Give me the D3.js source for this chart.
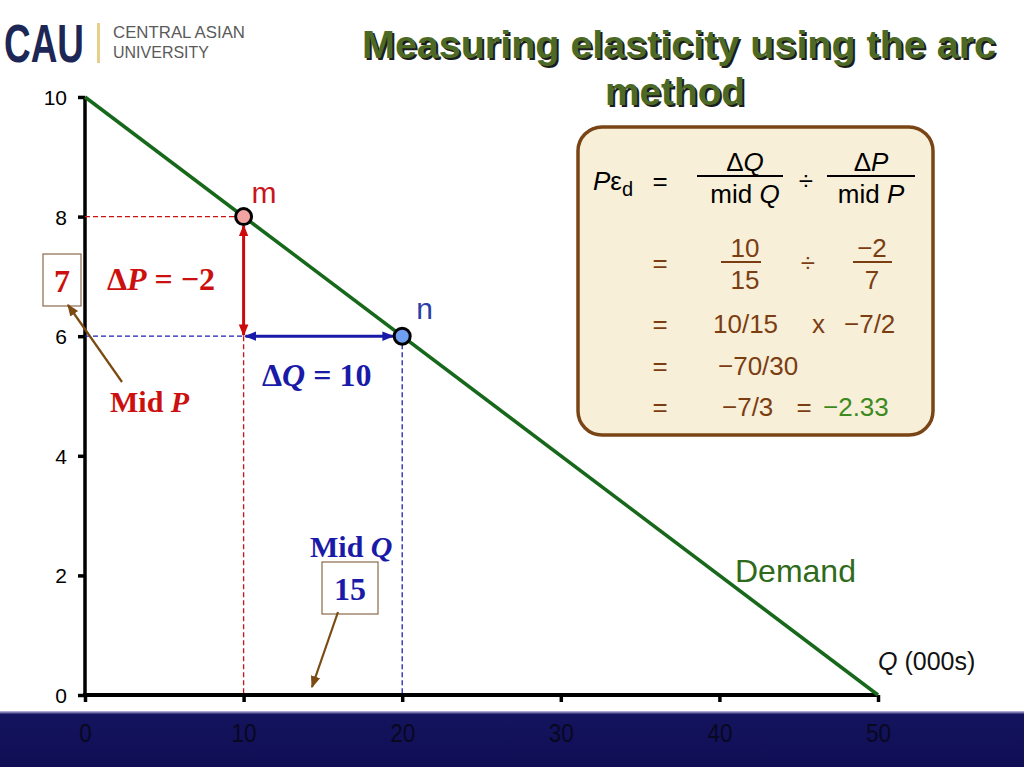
<!DOCTYPE html>
<html><head><meta charset="utf-8">
<script src="https://cdn.jsdelivr.net/npm/d3@7"></script>
<style>
html,body{margin:0;padding:0;background:#fff;}
svg{display:block;}
</style></head>
<body>
<script>
// ---- data ----
const qTicks = [0, 10, 20, 30, 40, 50];
const pTicks = [0, 2, 4, 6, 8, 10];
const demandQ = [0, 50];
const demandP = [10, 0];
const pointNames = ["m", "n"];
const pointQ = [10, 20];
const pointP = [8, 6];
const midP = 7;
const midQ = 15;
const deltaP = -2;
const deltaQ = 10;

const W = 1024, H = 767;
const svg = d3.select("body").append("svg").attr("width", W).attr("height", H);
const defs = svg.append("defs");

const x = d3.scaleLinear().domain([0, 50]).range([85, 878]);
const y = d3.scaleLinear().domain([0, 10]).range([695, 97]);

// arrow markers
function marker(id, color, size) {
  defs.append("marker").attr("id", id).attr("viewBox", "0 0 10 10")
    .attr("refX", 9).attr("refY", 5).attr("markerWidth", size).attr("markerHeight", size)
    .attr("orient", "auto-start-reverse").attr("markerUnits", "userSpaceOnUse")
    .append("path").attr("d", "M0,1 L10,5 L0,9 Z").attr("fill", color);
}
marker("arRed", "#cc0a0a", 12);
marker("arBlue", "#1a1aa8", 12);
marker("arBrown", "#7a4a12", 12);

// bottom band
const bandGrad = defs.append("linearGradient").attr("id", "bandG").attr("x1", 0).attr("y1", 0).attr("x2", 0).attr("y2", 1);
bandGrad.append("stop").attr("offset", "0").attr("stop-color", "#c9c4ea");
bandGrad.append("stop").attr("offset", "0.06").attr("stop-color", "#14145e");
bandGrad.append("stop").attr("offset", "1").attr("stop-color", "#0f0e55");
svg.append("rect").attr("x", 0).attr("y", 711).attr("width", W).attr("height", H - 711).attr("fill", "url(#bandG)");

// logo
const logo = svg.append("g");
logo.append("text").attr("x", 4).attr("y", 62).attr("font-family", "Liberation Sans, Arial, sans-serif")
  .attr("font-weight", "bold").attr("font-size", 54).attr("fill", "#1d2755")
  .attr("textLength", 80).attr("lengthAdjust", "spacingAndGlyphs").text("CAU");
logo.append("rect").attr("x", 97).attr("y", 23).attr("width", 3).attr("height", 40).attr("fill", "#e6cf8a");
logo.append("text").attr("x", 113).attr("y", 38).attr("font-family", "Liberation Sans Narrow, Liberation Sans, Arial, sans-serif")
  .attr("font-size", 17).attr("fill", "#5a5a5a").attr("textLength", 132).attr("lengthAdjust", "spacingAndGlyphs").text("CENTRAL ASIAN");
logo.append("text").attr("x", 113).attr("y", 58).attr("font-family", "Liberation Sans Narrow, Liberation Sans, Arial, sans-serif")
  .attr("font-size", 17).attr("fill", "#5a5a5a").attr("textLength", 96).attr("lengthAdjust", "spacingAndGlyphs").text("UNIVERSITY");

// title
const titleLines = [["Measuring elasticity using the arc", 679, 58, 634], ["method", 675, 105, 140]];
titleLines.forEach(([t, cx, by, len]) => {
  [["#1c1c1c", 2], ["#4c6a26", 0]].forEach(([col, off]) => {
    svg.append("text").attr("x", cx + off).attr("y", by + off).attr("text-anchor", "middle")
      .attr("font-family", "Liberation Sans Narrow, Liberation Sans, Arial, sans-serif")
      .attr("font-weight", "bold").attr("font-size", 38).attr("fill", col)
      .attr("textLength", len).attr("lengthAdjust", "spacingAndGlyphs").text(t);
  });
});

// axes
const yAxis = d3.axisLeft(y).tickValues(pTicks).tickSize(7).tickPadding(11).tickFormat(d3.format("d"));
const gy = svg.append("g").attr("transform", `translate(${x(0)},0)`).call(yAxis);
gy.select(".domain").attr("stroke", "#000").attr("stroke-width", 3.5).attr("d", `M0,${y(10)}V${y(0)}`);
gy.selectAll(".tick line").attr("stroke", "#000").attr("stroke-width", 3.5);
gy.selectAll(".tick text").attr("font-family", "Liberation Sans, Arial, sans-serif").attr("font-size", 21).attr("fill", "#000").attr("dy", "0.36em");

const xAxis = d3.axisBottom(x).tickValues(qTicks).tickSize(7).tickPadding(22).tickFormat(d3.format("d"));
const gx = svg.append("g").attr("transform", `translate(0,${y(0)})`).call(xAxis);
gx.select(".domain").attr("stroke", "#000").attr("stroke-width", 4).attr("d", `M${x(0) - 2},0H${x(50)}`);
gx.selectAll(".tick line").attr("stroke", "#000").attr("stroke-width", 3.5);
gx.selectAll(".tick text").attr("font-family", "Liberation Sans, Arial, sans-serif").attr("font-size", 25).attr("fill", "#08081f")
  .attr("transform", "scale(0.9,1)");

// dashed guides
const guides = [
  [pointQ[0], pointP[0], "#cc1010"],
  [pointQ[1], pointP[1], "#2020b0"]
];
guides.forEach(([q, p, col]) => {
  svg.append("line").attr("x1", x(0)).attr("x2", x(q)).attr("y1", y(p)).attr("y2", y(p))
    .attr("stroke", col).attr("stroke-width", 1.3).attr("stroke-dasharray", "5,3");
  svg.append("line").attr("x1", x(q)).attr("x2", x(q)).attr("y1", y(pointP[1])).attr("y2", y(0))
    .attr("stroke", col).attr("stroke-width", 1.3).attr("stroke-dasharray", "5,3");
});

// demand line
svg.append("line").attr("x1", x(demandQ[0])).attr("y1", y(demandP[0])).attr("x2", x(demandQ[1])).attr("y2", y(demandP[1]))
  .attr("stroke", "#17681a").attr("stroke-width", 3.5);

// delta arrows
svg.append("line").attr("x1", x(pointQ[0])).attr("x2", x(pointQ[0])).attr("y1", y(pointP[0]) + 9).attr("y2", y(pointP[1]) - 1)
  .attr("stroke", "#cc0a0a").attr("stroke-width", 3).attr("marker-start", "url(#arRed)").attr("marker-end", "url(#arRed)");
svg.append("line").attr("x1", x(pointQ[0]) + 2).attr("x2", x(pointQ[1]) - 9).attr("y1", y(pointP[1])).attr("y2", y(pointP[1]))
  .attr("stroke", "#1a1aa8").attr("stroke-width", 3).attr("marker-start", "url(#arBlue)").attr("marker-end", "url(#arBlue)");

// points
const ptFill = ["#f4a3a3", "#6f9ff0"];
const ptLabCol = ["#c8161c", "#2a3fa8"];
const ptLabOff = [[8, -14], [14, -17]];
pointNames.forEach((nm, i) => {
  svg.append("circle").attr("cx", x(pointQ[i])).attr("cy", y(pointP[i])).attr("r", 8)
    .attr("fill", ptFill[i]).attr("stroke", "#000").attr("stroke-width", 3);
  svg.append("text").attr("x", x(pointQ[i]) + ptLabOff[i][0]).attr("y", y(pointP[i]) + ptLabOff[i][1])
    .attr("font-family", "Liberation Sans, Arial, sans-serif").attr("font-size", 30).attr("fill", ptLabCol[i]).text(nm);
});

// annotations (serif bold)
const serif = "Liberation Serif, Times New Roman, serif";
const tDP = svg.append("text").attr("x", 107).attr("y", 290).attr("font-family", serif).attr("font-weight", "bold")
  .attr("font-size", 32).attr("fill", "#cc1010");
tDP.append("tspan").text("Δ");
tDP.append("tspan").attr("font-style", "italic").text("P");
tDP.append("tspan").text(" = −" + Math.abs(deltaP));

const tDQ = svg.append("text").attr("x", 262).attr("y", 386).attr("font-family", serif).attr("font-weight", "bold")
  .attr("font-size", 32).attr("fill", "#1a1aa8");
tDQ.append("tspan").text("Δ");
tDQ.append("tspan").attr("font-style", "italic").text("Q");
tDQ.append("tspan").text(" = " + deltaQ);

// Mid P box
svg.append("rect").attr("x", 43).attr("y", 254).attr("width", 38).attr("height", 52).attr("fill", "#fff")
  .attr("stroke", "#8a6a48").attr("stroke-width", 1.2);
svg.append("text").attr("x", 62).attr("y", 292).attr("text-anchor", "middle").attr("font-family", serif)
  .attr("font-weight", "bold").attr("font-size", 32).attr("fill", "#cc1010").text(midP);
svg.append("line").attr("x1", 122).attr("y1", 382).attr("x2", 68).attr("y2", 305)
  .attr("stroke", "#7a4a12").attr("stroke-width", 2.2).attr("marker-end", "url(#arBrown)");
const tMP = svg.append("text").attr("x", 110).attr("y", 412).attr("font-family", serif).attr("font-weight", "bold")
  .attr("font-size", 30).attr("fill", "#cc1010");
tMP.append("tspan").text("Mid ");
tMP.append("tspan").attr("font-style", "italic").text("P");

// Mid Q box
const tMQ = svg.append("text").attr("x", 310).attr("y", 557).attr("font-family", serif).attr("font-weight", "bold")
  .attr("font-size", 30).attr("fill", "#1a1aa8");
tMQ.append("tspan").text("Mid ");
tMQ.append("tspan").attr("font-style", "italic").text("Q");
svg.append("rect").attr("x", 322).attr("y", 562).attr("width", 56).attr("height", 52).attr("fill", "#fff")
  .attr("stroke", "#8a6a48").attr("stroke-width", 1.2);
svg.append("text").attr("x", 350).attr("y", 600).attr("text-anchor", "middle").attr("font-family", serif)
  .attr("font-weight", "bold").attr("font-size", 32).attr("fill", "#1a1aa8").text(midQ);
svg.append("line").attr("x1", 338).attr("y1", 612).attr("x2", 312).attr("y2", 687)
  .attr("stroke", "#7a4a12").attr("stroke-width", 2.2).attr("marker-end", "url(#arBrown)");

// Demand label and axis title
svg.append("text").attr("x", 735).attr("y", 582).attr("font-family", "Liberation Sans, Arial, sans-serif")
  .attr("font-size", 32).attr("fill", "#2e6a1a").text("Demand");
const tQ = svg.append("text").attr("x", 878).attr("y", 670).attr("font-family", "Liberation Sans, Arial, sans-serif")
  .attr("font-size", 25).attr("fill", "#111");
tQ.append("tspan").attr("font-style", "italic").text("Q");
tQ.append("tspan").text(" (000s)");

// formula box
const fb = svg.append("g");
fb.append("rect").attr("x", 578).attr("y", 127).attr("width", 355).attr("height", 308).attr("rx", 24).attr("ry", 24)
  .attr("fill", "#f8efd9").attr("stroke", "#7a4516").attr("stroke-width", 3.5);
const sans = "Liberation Sans, Arial, sans-serif";
const brown = "#7a3e12";
function ft(xp, yp, anchor, col, parts) {
  const t = fb.append("text").attr("x", xp).attr("y", yp).attr("text-anchor", anchor)
    .attr("font-family", sans).attr("font-size", 26).attr("fill", col);
  parts.forEach(p => {
    const s = t.append("tspan").text(p.t);
    if (p.i) s.attr("font-style", "italic");
    if (p.sub) s.attr("font-size", 20).attr("dy", 6);
  });
  return t;
}
function fline(x1, x2, yy, col) {
  fb.append("line").attr("x1", x1).attr("x2", x2).attr("y1", yy).attr("y2", yy).attr("stroke", col).attr("stroke-width", 1.8);
}
// row 1
ft(593, 190, "start", "#000", [{t: "P", i: true}, {t: "ε"}, {t: "d", sub: true}]);
ft(660, 190, "middle", "#000", [{t: "="}]);
ft(745, 171, "middle", "#000", [{t: "Δ"}, {t: "Q", i: true}]);
fline(697, 783, 176, "#000");
ft(745, 203, "middle", "#000", [{t: "mid "}, {t: "Q", i: true}]);
ft(806, 190, "middle", "#000", [{t: "÷"}]);
ft(871, 171, "middle", "#000", [{t: "Δ"}, {t: "P", i: true}]);
fline(827, 915, 176, "#000");
ft(871, 203, "middle", "#000", [{t: "mid "}, {t: "P", i: true}]);
// row 2
ft(660, 272, "middle", brown, [{t: "="}]);
ft(745, 257, "middle", brown, [{t: String(deltaQ)}]);
fline(721, 761, 262, brown);
ft(745, 289, "middle", brown, [{t: String(midQ)}]);
ft(808, 272, "middle", brown, [{t: "÷"}]);
ft(872, 257, "middle", brown, [{t: "−" + Math.abs(deltaP)}]);
fline(853, 892, 262, brown);
ft(872, 289, "middle", brown, [{t: String(midP)}]);
// rows 3-5
ft(660, 333, "middle", brown, [{t: "="}]);
ft(713, 333, "start", brown, [{t: deltaQ + "/" + midQ}]);
ft(812, 333, "start", brown, [{t: "x"}]);
ft(844, 333, "start", brown, [{t: "−" + midP + "/" + Math.abs(deltaP)}]);
ft(660, 375, "middle", brown, [{t: "="}]);
ft(718, 375, "start", brown, [{t: "−" + (deltaQ * midP) + "/" + (midQ * Math.abs(deltaP))}]);
ft(660, 416, "middle", brown, [{t: "="}]);
ft(722, 416, "start", brown, [{t: "−7/3"}]);
ft(804, 416, "middle", brown, [{t: "="}]);
ft(823, 416, "start", "#3d8a1e", [{t: "−" + ((deltaQ / midQ) * (midP / Math.abs(deltaP))).toFixed(2)}]);
</script>
</body></html>
